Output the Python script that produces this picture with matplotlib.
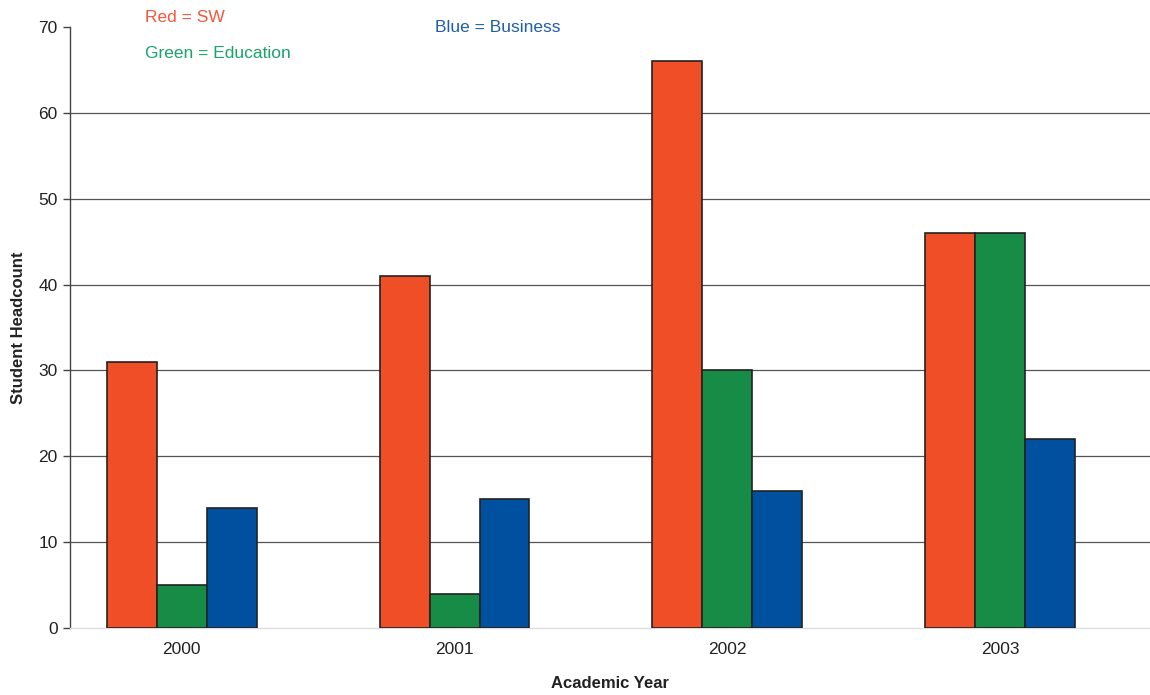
import matplotlib
matplotlib.use("Agg")
import matplotlib.pyplot as plt
import numpy as np

plt.rcParams['font.family'] = ['Liberation Sans', 'DejaVu Sans']

years = ["2000", "2001", "2002", "2003"]
sw = [31, 41, 66, 46]
education = [5, 4, 30, 46]
business = [14, 15, 16, 22]
y_ticks = [0, 10, 20, 30, 40, 50, 60, 70]

red = "#F04E27"
green = "#178C46"
blue = "#0050A0"
edge = "#222222"

fig = plt.figure(figsize=(11.5, 6.95), dpi=100)
ax = fig.add_axes([0.0609, 0.0964, 0.9391, 0.8648])

x = np.arange(len(years))
w = 0.183
ax.bar(x - w, sw, w, color=red, edgecolor=edge, linewidth=1.2, zorder=3)
ax.bar(x, education, w, color=green, edgecolor=edge, linewidth=1.2, zorder=3)
ax.bar(x + w, business, w, color=blue, edgecolor=edge, linewidth=1.2, zorder=3)

ax.set_xlim(-0.41, 3.55)
ax.set_ylim(0, 70)
ax.set_yticks(y_ticks)
for t in y_ticks[1:-1]:
    ax.axhline(t, color="#555555", linewidth=0.9, zorder=1)

ax.set_xticks(x)
ax.set_xticklabels(years)
ax.tick_params(axis="x", length=0, pad=10, labelsize=12.5, labelcolor="#222222")
ax.tick_params(axis="y", length=5, width=1, color="#444444", pad=4, labelsize=12.5, labelcolor="#222222")

for s in ["top", "right"]:
    ax.spines[s].set_visible(False)
ax.spines["left"].set_color("#444444")
ax.spines["left"].set_linewidth(1)
ax.spines["bottom"].set_color("#dddddd")
ax.spines["bottom"].set_linewidth(1)

ax.set_ylabel("Student Headcount", fontsize=12, fontweight="bold", color="#222222", labelpad=9)
ax.set_xlabel("Academic Year", fontsize=12, fontweight="bold", color="#222222", labelpad=14)

fig.text(145 / 1150, 1 - 17 / 695, "Red = SW", color="#F2583A", fontsize=12.5, va="center", ha="left")
fig.text(145 / 1150, 1 - 53 / 695, "Green = Education", color="#1AA36A", fontsize=12.5, va="center", ha="left")
fig.text(435 / 1150, 1 - 27 / 695, "Blue = Business", color="#1F5FAA", fontsize=12.5, va="center", ha="left")

fig.savefig("out.png", dpi=100)
